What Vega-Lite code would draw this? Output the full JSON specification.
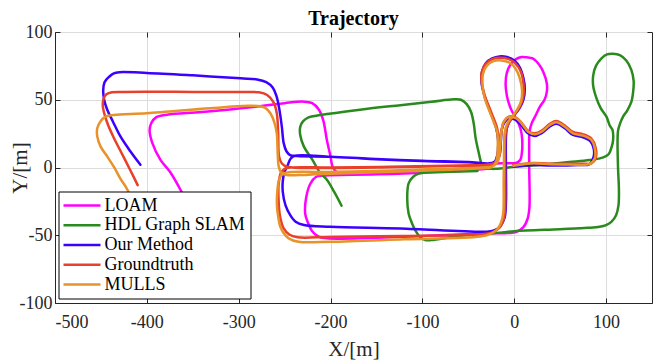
{
"$schema":"https://vega.github.io/schema/vega-lite/v6.json",
"width":597,"height":271,
"autosize":{"type":"none"},
"padding":{"left":55,"top":32,"right":9,"bottom":61},
"background":"white",
"title":{"text":"Trajectory","font":"Liberation Serif","fontSize":20,"fontWeight":"bold","color":"#000000","offset":-6,"anchor":"middle"},
"data":{"values":[
{"s":"LOAM","i":0,"x":-350,"y":-35},{"s":"LOAM","i":1,"x":-363,"y":-17},{"s":"LOAM","i":2,"x":-375,"y":-3},{"s":"LOAM","i":3,"x":-385,"y":5.5},{"s":"LOAM","i":4,"x":-394,"y":18},{"s":"LOAM","i":5,"x":-397,"y":27.7},{"s":"LOAM","i":6,"x":-395,"y":33},{"s":"LOAM","i":7,"x":-390,"y":37},{"s":"LOAM","i":8,"x":-378,"y":39},{"s":"LOAM","i":9,"x":-340,"y":41},{"s":"LOAM","i":10,"x":-280,"y":45},{"s":"LOAM","i":11,"x":-250,"y":47.5},{"s":"LOAM","i":12,"x":-229,"y":48.6},{"s":"LOAM","i":13,"x":-220,"y":47.5},{"s":"LOAM","i":14,"x":-213,"y":43},{"s":"LOAM","i":15,"x":-208,"y":35},{"s":"LOAM","i":16,"x":-204,"y":20.3},{"s":"LOAM","i":17,"x":-200,"y":8},{"s":"LOAM","i":18,"x":-198,"y":1},{"s":"LOAM","i":19,"x":-194,"y":-3},{"s":"LOAM","i":20,"x":-189,"y":-4.3},{"s":"LOAM","i":21,"x":-124,"y":-3},{"s":"LOAM","i":22,"x":-60,"y":-1},{"s":"LOAM","i":23,"x":-30,"y":1.5},{"s":"LOAM","i":24,"x":-19,"y":3},{"s":"LOAM","i":25,"x":2.6,"y":3.5},{"s":"LOAM","i":26,"x":6.5,"y":5.5},{"s":"LOAM","i":27,"x":8,"y":9},{"s":"LOAM","i":28,"x":8,"y":25},{"s":"LOAM","i":29,"x":5,"y":32},{"s":"LOAM","i":30,"x":2.6,"y":35},{"s":"LOAM","i":31,"x":-2,"y":41},{"s":"LOAM","i":32,"x":-4.7,"y":45},{"s":"LOAM","i":33,"x":-8,"y":53},{"s":"LOAM","i":34,"x":-9.4,"y":62},{"s":"LOAM","i":35,"x":-8,"y":70},{"s":"LOAM","i":36,"x":-4,"y":76},{"s":"LOAM","i":37,"x":2,"y":80},{"s":"LOAM","i":38,"x":8,"y":81.5},{"s":"LOAM","i":39,"x":13.5,"y":81.3},{"s":"LOAM","i":40,"x":20,"y":80.5},{"s":"LOAM","i":41,"x":27,"y":76},{"s":"LOAM","i":42,"x":32,"y":70},{"s":"LOAM","i":43,"x":35.5,"y":62},{"s":"LOAM","i":44,"x":35.5,"y":56},{"s":"LOAM","i":45,"x":33,"y":50},{"s":"LOAM","i":46,"x":28,"y":44.9},{"s":"LOAM","i":47,"x":23,"y":38},{"s":"LOAM","i":48,"x":19,"y":32.6},{"s":"LOAM","i":49,"x":16.5,"y":26},{"s":"LOAM","i":50,"x":16.3,"y":20},{"s":"LOAM","i":51,"x":16.3,"y":0},{"s":"LOAM","i":52,"x":16.8,"y":-20},{"s":"LOAM","i":53,"x":16.5,"y":-30},{"s":"LOAM","i":54,"x":14.5,"y":-38},{"s":"LOAM","i":55,"x":10,"y":-44},{"s":"LOAM","i":56,"x":2.6,"y":-47.4},{"s":"LOAM","i":57,"x":-10,"y":-48.5},{"s":"LOAM","i":58,"x":-26.4,"y":-48.6},{"s":"LOAM","i":59,"x":-100,"y":-50.5},{"s":"LOAM","i":60,"x":-204,"y":-52.3},{"s":"LOAM","i":61,"x":-213,"y":-51},{"s":"LOAM","i":62,"x":-220,"y":-47},{"s":"LOAM","i":63,"x":-225,"y":-40},{"s":"LOAM","i":64,"x":-227.6,"y":-34},{"s":"LOAM","i":65,"x":-226.5,"y":-22},{"s":"LOAM","i":66,"x":-222,"y":-12},{"s":"LOAM","i":67,"x":-216,"y":-7},{"s":"LOAM","i":68,"x":-208,"y":-6},{"s":"LOAM","i":69,"x":-150,"y":-5},{"s":"LOAM","i":70,"x":-60,"y":-2.5},{"s":"LOAM","i":71,"x":-25,"y":-0.5},
{"s":"HDL Graph SLAM","i":0,"x":-188,"y":-28.2},{"s":"HDL Graph SLAM","i":1,"x":-196,"y":-18},{"s":"HDL Graph SLAM","i":2,"x":-204,"y":-9},{"s":"HDL Graph SLAM","i":3,"x":-211,"y":-4.3},{"s":"HDL Graph SLAM","i":4,"x":-220,"y":6},{"s":"HDL Graph SLAM","i":5,"x":-229,"y":15.4},{"s":"HDL Graph SLAM","i":6,"x":-233,"y":24},{"s":"HDL Graph SLAM","i":7,"x":-233,"y":30},{"s":"HDL Graph SLAM","i":8,"x":-230,"y":34},{"s":"HDL Graph SLAM","i":9,"x":-224,"y":37},{"s":"HDL Graph SLAM","i":10,"x":-211,"y":38.7},{"s":"HDL Graph SLAM","i":11,"x":-170,"y":42.5},{"s":"HDL Graph SLAM","i":12,"x":-124,"y":46},{"s":"HDL Graph SLAM","i":13,"x":-90,"y":48.5},{"s":"HDL Graph SLAM","i":14,"x":-66,"y":50.3},{"s":"HDL Graph SLAM","i":15,"x":-58,"y":50},{"s":"HDL Graph SLAM","i":16,"x":-52,"y":47},{"s":"HDL Graph SLAM","i":17,"x":-47,"y":41},{"s":"HDL Graph SLAM","i":18,"x":-44,"y":32},{"s":"HDL Graph SLAM","i":19,"x":-42,"y":21.5},{"s":"HDL Graph SLAM","i":20,"x":-39,"y":12},{"s":"HDL Graph SLAM","i":21,"x":-37,"y":6},{"s":"HDL Graph SLAM","i":22,"x":-35,"y":2},{"s":"HDL Graph SLAM","i":23,"x":-30,"y":-0.5},{"s":"HDL Graph SLAM","i":24,"x":-20,"y":-1},{"s":"HDL Graph SLAM","i":25,"x":0,"y":0.5},{"s":"HDL Graph SLAM","i":26,"x":28,"y":2},{"s":"HDL Graph SLAM","i":27,"x":60,"y":4},{"s":"HDL Graph SLAM","i":28,"x":82,"y":5.5},{"s":"HDL Graph SLAM","i":29,"x":97,"y":7.5},{"s":"HDL Graph SLAM","i":30,"x":103,"y":10},{"s":"HDL Graph SLAM","i":31,"x":106,"y":15},{"s":"HDL Graph SLAM","i":32,"x":107.6,"y":20},{"s":"HDL Graph SLAM","i":33,"x":107,"y":27.7},{"s":"HDL Graph SLAM","i":34,"x":104,"y":31},{"s":"HDL Graph SLAM","i":35,"x":100.4,"y":37.5},{"s":"HDL Graph SLAM","i":36,"x":94,"y":44},{"s":"HDL Graph SLAM","i":37,"x":89.6,"y":51},{"s":"HDL Graph SLAM","i":38,"x":86,"y":60},{"s":"HDL Graph SLAM","i":39,"x":86,"y":68},{"s":"HDL Graph SLAM","i":40,"x":89,"y":75},{"s":"HDL Graph SLAM","i":41,"x":95,"y":80.5},{"s":"HDL Graph SLAM","i":42,"x":101,"y":83.5},{"s":"HDL Graph SLAM","i":43,"x":107.6,"y":84},{"s":"HDL Graph SLAM","i":44,"x":115,"y":83},{"s":"HDL Graph SLAM","i":45,"x":122,"y":79},{"s":"HDL Graph SLAM","i":46,"x":127.5,"y":72},{"s":"HDL Graph SLAM","i":47,"x":130,"y":64},{"s":"HDL Graph SLAM","i":48,"x":129.5,"y":56},{"s":"HDL Graph SLAM","i":49,"x":127.6,"y":48.6},{"s":"HDL Graph SLAM","i":50,"x":123,"y":42},{"s":"HDL Graph SLAM","i":51,"x":118.5,"y":37.5},{"s":"HDL Graph SLAM","i":52,"x":115,"y":32},{"s":"HDL Graph SLAM","i":53,"x":113,"y":27},{"s":"HDL Graph SLAM","i":54,"x":112.5,"y":20},{"s":"HDL Graph SLAM","i":55,"x":113,"y":0},{"s":"HDL Graph SLAM","i":56,"x":114,"y":-16.6},{"s":"HDL Graph SLAM","i":57,"x":113.5,"y":-28},{"s":"HDL Graph SLAM","i":58,"x":111,"y":-35},{"s":"HDL Graph SLAM","i":59,"x":106,"y":-40},{"s":"HDL Graph SLAM","i":60,"x":100,"y":-42.5},{"s":"HDL Graph SLAM","i":61,"x":93,"y":-43.7},{"s":"HDL Graph SLAM","i":62,"x":80,"y":-44.5},{"s":"HDL Graph SLAM","i":63,"x":49.7,"y":-45.5},{"s":"HDL Graph SLAM","i":64,"x":0,"y":-47},{"s":"HDL Graph SLAM","i":65,"x":-23,"y":-48.6},{"s":"HDL Graph SLAM","i":66,"x":-60,"y":-50.5},{"s":"HDL Graph SLAM","i":67,"x":-90,"y":-53.5},{"s":"HDL Graph SLAM","i":68,"x":-97,"y":-53.5},{"s":"HDL Graph SLAM","i":69,"x":-103,"y":-51},{"s":"HDL Graph SLAM","i":70,"x":-108,"y":-46},{"s":"HDL Graph SLAM","i":71,"x":-112,"y":-40},{"s":"HDL Graph SLAM","i":72,"x":-115,"y":-34},{"s":"HDL Graph SLAM","i":73,"x":-116.5,"y":-21.5},{"s":"HDL Graph SLAM","i":74,"x":-115,"y":-11.7},{"s":"HDL Graph SLAM","i":75,"x":-110,"y":-6.8},{"s":"HDL Graph SLAM","i":76,"x":-104,"y":-4.5},{"s":"HDL Graph SLAM","i":77,"x":-99,"y":-3.8},{"s":"HDL Graph SLAM","i":78,"x":-70,"y":-3.2},{"s":"HDL Graph SLAM","i":79,"x":-40,"y":-2.5},
{"s":"Our Method","i":0,"x":-407,"y":2},{"s":"Our Method","i":1,"x":-418,"y":12},{"s":"Our Method","i":2,"x":-428.6,"y":22.7},{"s":"Our Method","i":3,"x":-437,"y":34},{"s":"Our Method","i":4,"x":-443,"y":42.4},{"s":"Our Method","i":5,"x":-446.5,"y":50},{"s":"Our Method","i":6,"x":-447.5,"y":57.2},{"s":"Our Method","i":7,"x":-446,"y":63},{"s":"Our Method","i":8,"x":-441,"y":67},{"s":"Our Method","i":9,"x":-436,"y":69.5},{"s":"Our Method","i":10,"x":-430,"y":70.3},{"s":"Our Method","i":11,"x":-400,"y":69.8},{"s":"Our Method","i":12,"x":-350,"y":68},{"s":"Our Method","i":13,"x":-298,"y":65.8},{"s":"Our Method","i":14,"x":-280,"y":65},{"s":"Our Method","i":15,"x":-270,"y":63},{"s":"Our Method","i":16,"x":-263,"y":59},{"s":"Our Method","i":17,"x":-259,"y":53},{"s":"Our Method","i":18,"x":-256,"y":44},{"s":"Our Method","i":19,"x":-253,"y":30},{"s":"Our Method","i":20,"x":-251,"y":18},{"s":"Our Method","i":21,"x":-248,"y":12},{"s":"Our Method","i":22,"x":-244,"y":9.2},{"s":"Our Method","i":23,"x":-236,"y":8.5},{"s":"Our Method","i":24,"x":-200,"y":8},{"s":"Our Method","i":25,"x":-157,"y":6.5},{"s":"Our Method","i":26,"x":-100,"y":5},{"s":"Our Method","i":27,"x":-50,"y":4},{"s":"Our Method","i":28,"x":-26.4,"y":3.1},{"s":"Our Method","i":29,"x":-21,"y":4.5},{"s":"Our Method","i":30,"x":-18.5,"y":9},{"s":"Our Method","i":31,"x":-17.5,"y":20},{"s":"Our Method","i":32,"x":-20,"y":30},{"s":"Our Method","i":33,"x":-26,"y":41},{"s":"Our Method","i":34,"x":-32,"y":52},{"s":"Our Method","i":35,"x":-35.5,"y":62},{"s":"Our Method","i":36,"x":-35,"y":71},{"s":"Our Method","i":37,"x":-31,"y":77},{"s":"Our Method","i":38,"x":-24,"y":80.5},{"s":"Our Method","i":39,"x":-16,"y":82},{"s":"Our Method","i":40,"x":-8,"y":81.5},{"s":"Our Method","i":41,"x":0,"y":79},{"s":"Our Method","i":42,"x":6,"y":74},{"s":"Our Method","i":43,"x":10,"y":66},{"s":"Our Method","i":44,"x":11.5,"y":58},{"s":"Our Method","i":45,"x":10,"y":50},{"s":"Our Method","i":46,"x":6,"y":44},{"s":"Our Method","i":47,"x":0,"y":38.5},{"s":"Our Method","i":48,"x":-5,"y":34},{"s":"Our Method","i":49,"x":-8,"y":29},{"s":"Our Method","i":50,"x":-9,"y":22},{"s":"Our Method","i":51,"x":-9,"y":-1.8},{"s":"Our Method","i":52,"x":-9,"y":-26.4},{"s":"Our Method","i":53,"x":-10.5,"y":-37},{"s":"Our Method","i":54,"x":-15.5,"y":-43.7},{"s":"Our Method","i":55,"x":-22,"y":-46.5},{"s":"Our Method","i":56,"x":-30,"y":-47.4},{"s":"Our Method","i":57,"x":-124,"y":-45},{"s":"Our Method","i":58,"x":-200,"y":-43.7},{"s":"Our Method","i":59,"x":-229,"y":-42.4},{"s":"Our Method","i":60,"x":-238,"y":-40},{"s":"Our Method","i":61,"x":-244,"y":-35},{"s":"Our Method","i":62,"x":-249,"y":-28},{"s":"Our Method","i":63,"x":-252,"y":-18},{"s":"Our Method","i":64,"x":-252,"y":-10},{"s":"Our Method","i":65,"x":-250,"y":-3},{"s":"Our Method","i":66,"x":-247,"y":1},{"s":"Our Method","i":67,"x":-244,"y":6},{"s":"Our Method","i":68,"x":-240,"y":8.5},{"s":"Our Method","i":69,"x":-200,"y":8},{"s":"Our Method","i":70,"x":-157,"y":6.3},{"s":"Our Method","i":71,"x":-100,"y":4.8},{"s":"Our Method","i":72,"x":-50,"y":3.8},{"s":"Our Method","i":73,"x":-26,"y":3},{"s":"Our Method","i":74,"x":-20,"y":4.5},{"s":"Our Method","i":75,"x":-16,"y":9},{"s":"Our Method","i":76,"x":-14.5,"y":20},{"s":"Our Method","i":77,"x":-13.5,"y":28},{"s":"Our Method","i":78,"x":-11,"y":33},{"s":"Our Method","i":79,"x":-6.5,"y":36},{"s":"Our Method","i":80,"x":1,"y":35.3},{"s":"Our Method","i":81,"x":7,"y":31.6},{"s":"Our Method","i":82,"x":14.5,"y":25.5},{"s":"Our Method","i":83,"x":22,"y":23.2},{"s":"Our Method","i":84,"x":29.5,"y":25.2},{"s":"Our Method","i":85,"x":38.5,"y":30.2},{"s":"Our Method","i":86,"x":46,"y":32.2},{"s":"Our Method","i":87,"x":55,"y":29},{"s":"Our Method","i":88,"x":64,"y":24},{"s":"Our Method","i":89,"x":75,"y":22.3},{"s":"Our Method","i":90,"x":83,"y":19.3},{"s":"Our Method","i":91,"x":86.5,"y":14},{"s":"Our Method","i":92,"x":86.5,"y":8},{"s":"Our Method","i":93,"x":82,"y":2.5},{"s":"Our Method","i":94,"x":70,"y":1.8},{"s":"Our Method","i":95,"x":40,"y":1.4},{"s":"Our Method","i":96,"x":20,"y":1.8},{"s":"Our Method","i":97,"x":-1,"y":0.8},
{"s":"Groundtruth","i":0,"x":-410,"y":-13},{"s":"Groundtruth","i":1,"x":-418,"y":-2},{"s":"Groundtruth","i":2,"x":-427,"y":10},{"s":"Groundtruth","i":3,"x":-436,"y":22},{"s":"Groundtruth","i":4,"x":-442,"y":31},{"s":"Groundtruth","i":5,"x":-446,"y":39},{"s":"Groundtruth","i":6,"x":-448,"y":46},{"s":"Groundtruth","i":7,"x":-447,"y":51},{"s":"Groundtruth","i":8,"x":-444,"y":54},{"s":"Groundtruth","i":9,"x":-438,"y":55.5},{"s":"Groundtruth","i":10,"x":-425,"y":55.8},{"s":"Groundtruth","i":11,"x":-350,"y":55.8},{"s":"Groundtruth","i":12,"x":-300,"y":55.7},{"s":"Groundtruth","i":13,"x":-278,"y":55.5},{"s":"Groundtruth","i":14,"x":-269,"y":53.5},{"s":"Groundtruth","i":15,"x":-262,"y":48},{"s":"Groundtruth","i":16,"x":-258.5,"y":40},{"s":"Groundtruth","i":17,"x":-257,"y":25},{"s":"Groundtruth","i":18,"x":-256,"y":8},{"s":"Groundtruth","i":19,"x":-253,"y":3},{"s":"Groundtruth","i":20,"x":-247,"y":0.5},{"s":"Groundtruth","i":21,"x":-200,"y":-0.3},{"s":"Groundtruth","i":22,"x":-135,"y":0.2},{"s":"Groundtruth","i":23,"x":-60,"y":1.2},{"s":"Groundtruth","i":24,"x":-30,"y":1.8},{"s":"Groundtruth","i":25,"x":-22,"y":3},{"s":"Groundtruth","i":26,"x":-18,"y":7.5},{"s":"Groundtruth","i":27,"x":-16.5,"y":20},{"s":"Groundtruth","i":28,"x":-19,"y":30},{"s":"Groundtruth","i":29,"x":-25.5,"y":41.5},{"s":"Groundtruth","i":30,"x":-32.5,"y":54},{"s":"Groundtruth","i":31,"x":-35.5,"y":63},{"s":"Groundtruth","i":32,"x":-35.5,"y":70},{"s":"Groundtruth","i":33,"x":-31,"y":76.5},{"s":"Groundtruth","i":34,"x":-24,"y":80},{"s":"Groundtruth","i":35,"x":-15,"y":81},{"s":"Groundtruth","i":36,"x":-6,"y":80},{"s":"Groundtruth","i":37,"x":1,"y":77},{"s":"Groundtruth","i":38,"x":7,"y":71},{"s":"Groundtruth","i":39,"x":10,"y":62},{"s":"Groundtruth","i":40,"x":10,"y":53},{"s":"Groundtruth","i":41,"x":6.5,"y":45.5},{"s":"Groundtruth","i":42,"x":0,"y":38.8},{"s":"Groundtruth","i":43,"x":-5.5,"y":33.5},{"s":"Groundtruth","i":44,"x":-9,"y":27},{"s":"Groundtruth","i":45,"x":-10,"y":20},{"s":"Groundtruth","i":46,"x":-10,"y":-2},{"s":"Groundtruth","i":47,"x":-10,"y":-30},{"s":"Groundtruth","i":48,"x":-11.5,"y":-38},{"s":"Groundtruth","i":49,"x":-16,"y":-44.5},{"s":"Groundtruth","i":50,"x":-24,"y":-48},{"s":"Groundtruth","i":51,"x":-40,"y":-49.5},{"s":"Groundtruth","i":52,"x":-120,"y":-50.5},{"s":"Groundtruth","i":53,"x":-200,"y":-51.2},{"s":"Groundtruth","i":54,"x":-236,"y":-51.5},{"s":"Groundtruth","i":55,"x":-245,"y":-49.5},{"s":"Groundtruth","i":56,"x":-251,"y":-45},{"s":"Groundtruth","i":57,"x":-255,"y":-36},{"s":"Groundtruth","i":58,"x":-256.5,"y":-25},{"s":"Groundtruth","i":59,"x":-256.5,"y":-12},{"s":"Groundtruth","i":60,"x":-254,"y":-4},{"s":"Groundtruth","i":61,"x":-250,"y":-1},{"s":"Groundtruth","i":62,"x":-243,"y":0},{"s":"Groundtruth","i":63,"x":-200,"y":0},{"s":"Groundtruth","i":64,"x":-135,"y":0.5},{"s":"Groundtruth","i":65,"x":-60,"y":1.5},{"s":"Groundtruth","i":66,"x":-30,"y":2},{"s":"Groundtruth","i":67,"x":-21,"y":3.5},{"s":"Groundtruth","i":68,"x":-16.5,"y":8},{"s":"Groundtruth","i":69,"x":-15,"y":20},{"s":"Groundtruth","i":70,"x":-13.5,"y":28.5},{"s":"Groundtruth","i":71,"x":-11,"y":34},{"s":"Groundtruth","i":72,"x":-6,"y":37.5},{"s":"Groundtruth","i":73,"x":1.5,"y":37},{"s":"Groundtruth","i":74,"x":8,"y":33},{"s":"Groundtruth","i":75,"x":15,"y":27},{"s":"Groundtruth","i":76,"x":22.5,"y":25.2},{"s":"Groundtruth","i":77,"x":30,"y":27.2},{"s":"Groundtruth","i":78,"x":38.8,"y":32.2},{"s":"Groundtruth","i":79,"x":46,"y":34.3},{"s":"Groundtruth","i":80,"x":55,"y":31},{"s":"Groundtruth","i":81,"x":64,"y":26.2},{"s":"Groundtruth","i":82,"x":75,"y":24.5},{"s":"Groundtruth","i":83,"x":84,"y":21.3},{"s":"Groundtruth","i":84,"x":88.5,"y":15},{"s":"Groundtruth","i":85,"x":88.7,"y":7},{"s":"Groundtruth","i":86,"x":84,"y":3},{"s":"Groundtruth","i":87,"x":75,"y":2.8},{"s":"Groundtruth","i":88,"x":38.8,"y":2.8},{"s":"Groundtruth","i":89,"x":20.7,"y":3.4},{"s":"Groundtruth","i":90,"x":-1,"y":1.8},
{"s":"MULLS","i":0,"x":-410,"y":-35},{"s":"MULLS","i":1,"x":-421,"y":-16.6},{"s":"MULLS","i":2,"x":-429,"y":-8},{"s":"MULLS","i":3,"x":-436,"y":0.6},{"s":"MULLS","i":4,"x":-444,"y":9},{"s":"MULLS","i":5,"x":-450.3,"y":15.4},{"s":"MULLS","i":6,"x":-454,"y":23},{"s":"MULLS","i":7,"x":-454,"y":29},{"s":"MULLS","i":8,"x":-450.5,"y":34},{"s":"MULLS","i":9,"x":-445,"y":37.5},{"s":"MULLS","i":10,"x":-436,"y":38.7},{"s":"MULLS","i":11,"x":-400,"y":40},{"s":"MULLS","i":12,"x":-331,"y":43.7},{"s":"MULLS","i":13,"x":-290,"y":45.5},{"s":"MULLS","i":14,"x":-280,"y":45.4},{"s":"MULLS","i":15,"x":-271,"y":44},{"s":"MULLS","i":16,"x":-265.5,"y":40},{"s":"MULLS","i":17,"x":-261,"y":33},{"s":"MULLS","i":18,"x":-258.5,"y":25},{"s":"MULLS","i":19,"x":-257.5,"y":10},{"s":"MULLS","i":20,"x":-256.5,"y":1},{"s":"MULLS","i":21,"x":-253.5,"y":-4},{"s":"MULLS","i":22,"x":-248,"y":-5.5},{"s":"MULLS","i":23,"x":-230,"y":-5.5},{"s":"MULLS","i":24,"x":-216.8,"y":-5},{"s":"MULLS","i":25,"x":-150,"y":-3.5},{"s":"MULLS","i":26,"x":-80,"y":-1.8},{"s":"MULLS","i":27,"x":-35,"y":-0.5},{"s":"MULLS","i":28,"x":-24,"y":0.5},{"s":"MULLS","i":29,"x":-19.5,"y":4.5},{"s":"MULLS","i":30,"x":-18,"y":15},{"s":"MULLS","i":31,"x":-18.5,"y":26},{"s":"MULLS","i":32,"x":-22,"y":33},{"s":"MULLS","i":33,"x":-27.5,"y":42.5},{"s":"MULLS","i":34,"x":-32.5,"y":52},{"s":"MULLS","i":35,"x":-34.5,"y":61},{"s":"MULLS","i":36,"x":-34,"y":69},{"s":"MULLS","i":37,"x":-30,"y":75},{"s":"MULLS","i":38,"x":-22.5,"y":78.5},{"s":"MULLS","i":39,"x":-14,"y":79},{"s":"MULLS","i":40,"x":-5.5,"y":77.5},{"s":"MULLS","i":41,"x":1,"y":73.5},{"s":"MULLS","i":42,"x":6,"y":66},{"s":"MULLS","i":43,"x":8.5,"y":57},{"s":"MULLS","i":44,"x":7.5,"y":49},{"s":"MULLS","i":45,"x":3,"y":42.5},{"s":"MULLS","i":46,"x":-3,"y":37},{"s":"MULLS","i":47,"x":-8,"y":32},{"s":"MULLS","i":48,"x":-10.5,"y":25},{"s":"MULLS","i":49,"x":-11,"y":15},{"s":"MULLS","i":50,"x":-11.5,"y":-9.2},{"s":"MULLS","i":51,"x":-12,"y":-33.8},{"s":"MULLS","i":52,"x":-14.5,"y":-41},{"s":"MULLS","i":53,"x":-19,"y":-46},{"s":"MULLS","i":54,"x":-26,"y":-49},{"s":"MULLS","i":55,"x":-37.3,"y":-51},{"s":"MULLS","i":56,"x":-120,"y":-53},{"s":"MULLS","i":57,"x":-200,"y":-54.8},{"s":"MULLS","i":58,"x":-234.8,"y":-54.8},{"s":"MULLS","i":59,"x":-245.6,"y":-52.3},{"s":"MULLS","i":60,"x":-251.5,"y":-48},{"s":"MULLS","i":61,"x":-254.7,"y":-43.7},{"s":"MULLS","i":62,"x":-257,"y":-36},{"s":"MULLS","i":63,"x":-258.3,"y":-29},{"s":"MULLS","i":64,"x":-258,"y":-18},{"s":"MULLS","i":65,"x":-256,"y":-9},{"s":"MULLS","i":66,"x":-252,"y":-4.5},{"s":"MULLS","i":67,"x":-245,"y":-3.5},{"s":"MULLS","i":68,"x":-200,"y":-3.3},{"s":"MULLS","i":69,"x":-150,"y":-2.5},{"s":"MULLS","i":70,"x":-80,"y":-1},{"s":"MULLS","i":71,"x":-35,"y":0},{"s":"MULLS","i":72,"x":-23,"y":1},{"s":"MULLS","i":73,"x":-17.5,"y":5},{"s":"MULLS","i":74,"x":-15.5,"y":15},{"s":"MULLS","i":75,"x":-14,"y":26},{"s":"MULLS","i":76,"x":-12,"y":33},{"s":"MULLS","i":77,"x":-8,"y":36.5},{"s":"MULLS","i":78,"x":-4.7,"y":37.5},{"s":"MULLS","i":79,"x":2.6,"y":36.3},{"s":"MULLS","i":80,"x":8,"y":32.6},{"s":"MULLS","i":81,"x":15.2,"y":26.4},{"s":"MULLS","i":82,"x":22.5,"y":24.5},{"s":"MULLS","i":83,"x":29.8,"y":26.4},{"s":"MULLS","i":84,"x":38.8,"y":31.4},{"s":"MULLS","i":85,"x":46,"y":33.4},{"s":"MULLS","i":86,"x":55,"y":30.1},{"s":"MULLS","i":87,"x":64,"y":25.2},{"s":"MULLS","i":88,"x":75,"y":23.5},{"s":"MULLS","i":89,"x":84,"y":20.3},{"s":"MULLS","i":90,"x":87.7,"y":14.2},{"s":"MULLS","i":91,"x":87.7,"y":6.8},{"s":"MULLS","i":92,"x":82.3,"y":2.6},{"s":"MULLS","i":93,"x":60,"y":2.3},{"s":"MULLS","i":94,"x":38.8,"y":2.4},{"s":"MULLS","i":95,"x":20.7,"y":3.1},{"s":"MULLS","i":96,"x":-1,"y":1.3}
]},
"layer":[
{"mark":{"type":"line","strokeWidth":2.5,"strokeCap":"round","strokeJoin":"round","interpolate":"catmull-rom"},
 "encoding":{
  "x":{"field":"x","type":"quantitative","scale":{"domain":[-500,150],"nice":false,"zero":false},"axis":{"values":[-500,-400,-300,-200,-100,0,100],"labelExpr":"'' + datum.value","title":"X/[m]","labelPadding":15,"titlePadding":7}},
  "y":{"field":"y","type":"quantitative","scale":{"domain":[-100,100],"nice":false,"zero":false},"axis":{"values":[-100,-50,0,50,100],"labelExpr":"'' + datum.value","title":"Y/[m]","labelPadding":8,"titlePadding":-11}},
  "color":{"field":"s","type":"nominal","scale":{"domain":["LOAM","HDL Graph SLAM","Our Method","Groundtruth","MULLS"],"range":["#ff00ff","#2a8a1d","#3c00ff","#e8402a","#e8922a"]},
   "legend":{"title":null,"orient":"none","legendX":3.5,"legendY":159.5,"direction":"vertical","strokeColor":"#000000","fillColor":"#ffffff","padding":5,"symbolType":"M-1.8,0H5.6","symbolSize":100,"symbolStrokeWidth":2.5,"symbolFillColor":"transparent","labelFont":"Liberation Serif","labelFontSize":18,"labelColor":"#000000","labelOffset":23,"rowPadding":1.75,"labelLimit":300}},
  "order":{"field":"i","type":"quantitative"}
 }},
{"mark":{"type":"point","opacity":0},
 "encoding":{
  "x":{"field":"x","type":"quantitative","axis":{"orient":"top","labels":false,"title":null,"grid":false,"domain":false,"values":[-500,-400,-300,-200,-100,0,100],"tickSize":-5}},
  "y":{"field":"y","type":"quantitative","axis":{"orient":"right","labels":false,"title":null,"grid":false,"domain":false,"values":[-100,-50,0,50,100],"tickSize":-5}}
 }}
],
"resolve":{"axis":{"x":"independent","y":"independent"}},
"config":{
 "view":{"stroke":"#262626","strokeWidth":1},
 "axis":{"labelFont":"Liberation Serif","labelFontSize":18,"labelColor":"#262626","titleFont":"Liberation Serif","titleFontSize":21,"titleFontWeight":"normal","titleColor":"#262626","gridColor":"#dcdcdc","gridWidth":1,"domainColor":"#262626","tickColor":"#262626","tickSize":-5}
}
}
